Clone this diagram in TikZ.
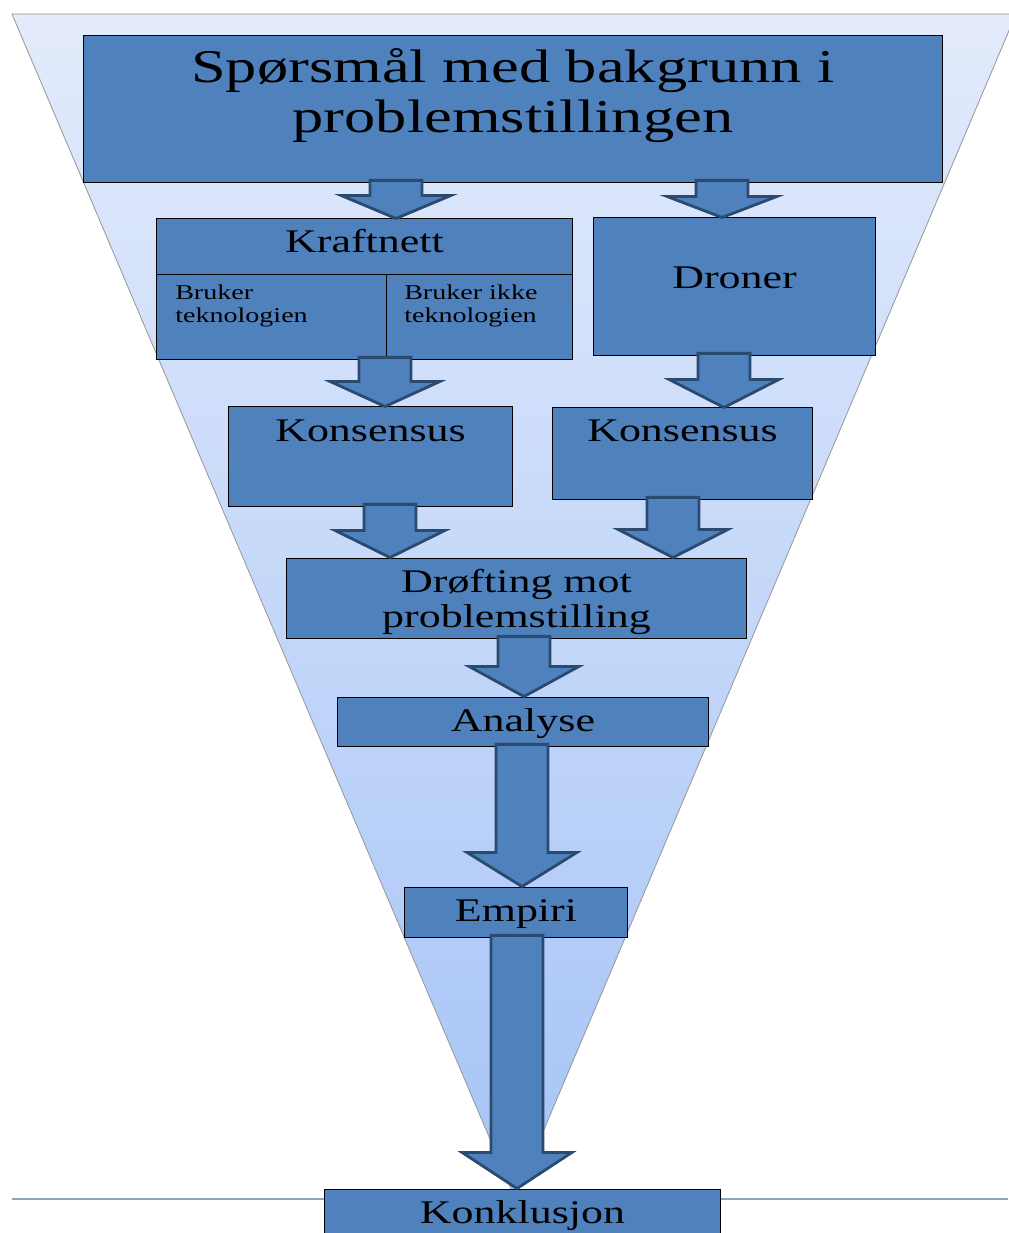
\documentclass[tikz,border=0pt]{standalone}
\usepackage{fontspec}
\setmainfont{Liberation Serif}[FakeStretch=1.33]
\usetikzlibrary{calc}
\definecolor{boxblue}{HTML}{4F81BD}
\definecolor{arrowedge}{HTML}{2B4A6F}
\definecolor{funneltop}{HTML}{E3EBFB}
\definecolor{funnelbot}{HTML}{A6C4F7}
\definecolor{guide}{HTML}{8FA5BF}

\tikzset{
  stage/.style={rectangle, draw=black, line width=0.7pt, fill=boxblue, inner sep=0pt},
  txt/.style={font=\fontsize{23.5}{25}\selectfont, anchor=base, inner sep=0pt, align=center},
  titletxt/.style={txt, font=\fontsize{33.4}{35.6}\selectfont},
  smalltxt/.style={font=\fontsize{15}{16.4}\selectfont, anchor=base west, inner sep=0pt, align=left},
  blockarrow/.style={draw=arrowedge, line width=2pt, fill=boxblue, line join=miter},
}

% x of the shaft, from, to, head length in px
\newcommand{\stagearrow}[4]{%
  \draw[blockarrow] let \p1=(#2), \p2=(#3), \p3=(#1,0) in
    (\x3-18.5pt,\y1+1.5pt) -- (\x3+18.5pt,\y1+1.5pt) -- (\x3+18.5pt,\y2+#4*0.7113pt)
    -- (\x3+39pt,\y2+#4*0.7113pt) -- (\x3,\y2) -- (\x3-39pt,\y2+#4*0.7113pt)
    -- (\x3-18.5pt,\y2+#4*0.7113pt) -- cycle;}

\begin{document}
\begin{tikzpicture}[x=0.025cm, y=-0.025cm]
  \useasboundingbox (0,0) rectangle (1008,1233);

  % funnel
  \path[draw=gray!80, line width=0.6pt, top color=funneltop, bottom color=funnelbot]
    (12,14) -- (1016,14) -- (515,1198) -- cycle;
  \draw[guide, line width=1.2pt] (12,1199) -- (1008,1199);

  \node[stage, minimum width=21.45cm, minimum height=3.65cm,
    label={[titletxt, yshift=-2.425cm]north:{Spørsmål med bakgrunn i\\problemstillingen}}]
    (top) at (513,109) {};

  \node[stage, minimum width=10.375cm, minimum height=3.5cm,
    label={[txt, yshift=-0.85cm]north:Kraftnett}] (kraft) at (364.5,289) {};
  \draw[line width=0.7pt] (kraft.west |- 0,274) -- (kraft.east |- 0,274);
  \draw[line width=0.7pt] (386,274) -- (kraft.south -| 386,0);
  \node[smalltxt] (bruker) at (175,323) {Bruker\\teknologien};
  \node[smalltxt] (ikke) at (404,323) {Bruker ikke\\teknologien};

  \node[stage, minimum width=7.025cm, minimum height=3.425cm,
    label={[txt, yshift=-1.775cm]north:Droner}] (droner) at (734.5,286.5) {};

  \node[stage, minimum width=7.075cm, minimum height=2.475cm,
    label={[txt, yshift=-0.875cm]north:Konsensus}] (kons1) at (370.5,456.5) {};
  \node[stage, minimum width=6.475cm, minimum height=2.275cm,
    label={[txt, yshift=-0.85cm]north:Konsensus}] (kons2) at (682.5,453.5) {};

  \node[stage, minimum width=11.475cm, minimum height=2cm,
    label={[txt, yshift=-1.75cm]north:{Drøfting mot\\problemstilling}}] (drofting) at (516.5,598) {};

  \node[stage, minimum width=9.25cm, minimum height=1.225cm,
    label={[txt, yshift=-0.875cm]north:Analyse}] (analyse) at (523,721.5) {};

  \node[stage, minimum width=5.55cm, minimum height=1.25cm,
    label={[txt, yshift=-0.875cm]north:Empiri}] (empiri) at (516,912) {};

  \node[stage, minimum width=9.875cm, minimum height=1.775cm,
    label={[txt, yshift=-0.875cm]north:Konklusjon}] (konkl) at (522.5,1224.5) {};

  \stagearrow{396}{top.south}{kraft.north}{23}
  \stagearrow{722}{top.south}{droner.north}{21}
  \stagearrow{385}{kraft.south}{kons1.north}{25}
  \stagearrow{724}{droner.south}{kons2.north}{28}
  \stagearrow{390}{kons1.south}{drofting.north}{27}
  \stagearrow{673}{kons2.south}{drofting.north}{28}
  \stagearrow{524}{drofting.south}{analyse.north}{30}
  \stagearrow{522}{analyse.south}{empiri.north}{34}
  \stagearrow{517}{empiri.south}{konkl.north}{36}
\end{tikzpicture}
\end{document}
